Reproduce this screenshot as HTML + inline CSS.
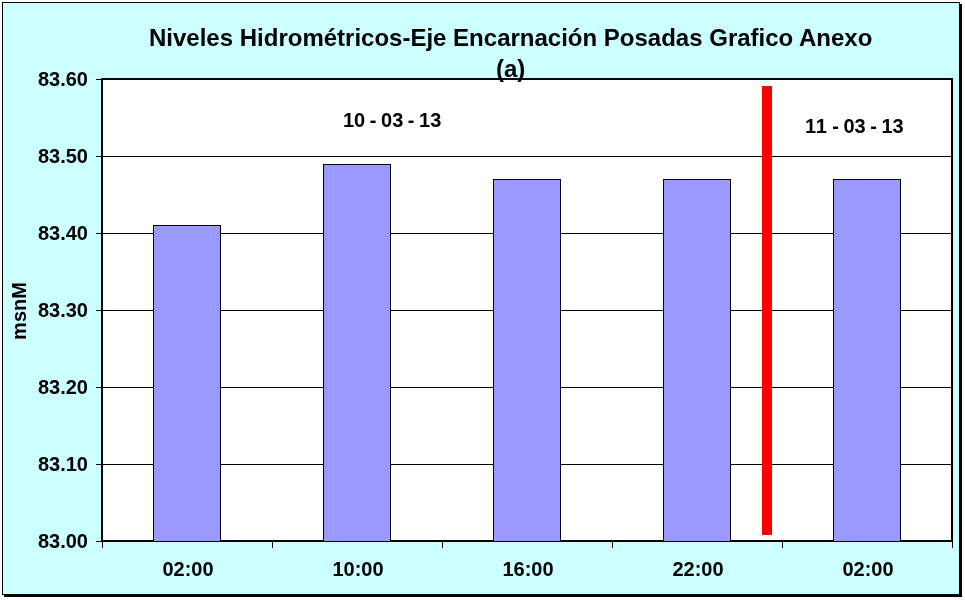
<!DOCTYPE html>
<html lang="es">
<head>
<meta charset="utf-8">
<title>Niveles Hidrométricos</title>
<style>
html,body{margin:0;padding:0;background:#fff;}
body{width:965px;height:600px;position:relative;overflow:hidden;font-family:"Liberation Sans",Arial,sans-serif;font-weight:bold;color:#000;}
.abs{position:absolute;}
#chart{left:2px;top:2px;width:956px;height:591px;border:1px solid #000;background:#ccffff;box-shadow:2px 2px 0 0 #000;}
#plot{left:101px;top:78px;width:848px;height:460px;border:2px solid #000;background:#fff;}
.grid{left:103px;width:848px;height:1px;background:#000;}
.ytick{left:96px;width:5px;height:1px;background:#000;}
.xtick{top:542px;width:1px;height:6px;background:#000;}
.bar{width:66px;border:1px solid #000;background:#9999ff;}
.ylab{left:22px;width:66px;text-align:right;font-size:20px;line-height:20px;height:20px;white-space:nowrap;}
.xlab{top:559px;width:170px;margin-left:1px;text-align:center;font-size:20px;line-height:20px;height:20px;white-space:nowrap;}
.t{white-space:nowrap;line-height:1;}
</style>
</head>
<body>
<div id="chart" class="abs"></div>
<div id="plot" class="abs"></div>

<div class="abs grid" style="top:156px"></div>
<div class="abs grid" style="top:233px"></div>
<div class="abs grid" style="top:310px"></div>
<div class="abs grid" style="top:387px"></div>
<div class="abs grid" style="top:464px"></div>

<div class="abs ytick" style="top:79px"></div>
<div class="abs ytick" style="top:156px"></div>
<div class="abs ytick" style="top:233px"></div>
<div class="abs ytick" style="top:310px"></div>
<div class="abs ytick" style="top:387px"></div>
<div class="abs ytick" style="top:464px"></div>
<div class="abs ytick" style="top:541px"></div>

<div class="abs xtick" style="left:102px"></div>
<div class="abs xtick" style="left:272px"></div>
<div class="abs xtick" style="left:442px"></div>
<div class="abs xtick" style="left:612px"></div>
<div class="abs xtick" style="left:782px"></div>
<div class="abs xtick" style="left:952px"></div>

<div class="abs bar" style="left:153px;top:225px;height:315px"></div>
<div class="abs bar" style="left:323px;top:164px;height:376px"></div>
<div class="abs bar" style="left:493px;top:179px;height:361px"></div>
<div class="abs bar" style="left:663px;top:179px;height:361px"></div>
<div class="abs bar" style="left:833px;top:179px;height:361px"></div>

<div class="abs" style="left:762px;top:86px;width:10px;height:449px;background:#ff0000"></div>

<div class="abs ylab" style="top:69px">83.60</div>
<div class="abs ylab" style="top:146px">83.50</div>
<div class="abs ylab" style="top:223px">83.40</div>
<div class="abs ylab" style="top:300px">83.30</div>
<div class="abs ylab" style="top:377px">83.20</div>
<div class="abs ylab" style="top:454px">83.10</div>
<div class="abs ylab" style="top:531px">83.00</div>

<div class="abs xlab" style="left:102px">02:00</div>
<div class="abs xlab" style="left:272px">10:00</div>
<div class="abs xlab" style="left:442px">16:00</div>
<div class="abs xlab" style="left:612px">22:00</div>
<div class="abs xlab" style="left:782px">02:00</div>

<div id="title1" class="abs t" style="left:149px;top:26px;font-size:24px">Niveles Hidrométricos-Eje Encarnación Posadas Grafico Anexo</div>
<div id="title2" class="abs t" style="left:496px;top:57px;font-size:24px">(a)</div>

<div id="d1" class="abs t" style="left:343px;top:110px;font-size:20px;word-spacing:-1px">10 - 03 - 13</div>
<div id="d2" class="abs t" style="left:805px;top:116px;font-size:20px;word-spacing:-1px"><span style="letter-spacing:0.75px">11</span> - 03 - 13</div>

<div id="ytitle" class="abs t" style="left:19px;top:311px;font-size:20px;transform:translate(-50%,-50%) rotate(-90deg);">msnM</div>
</body>
</html>
